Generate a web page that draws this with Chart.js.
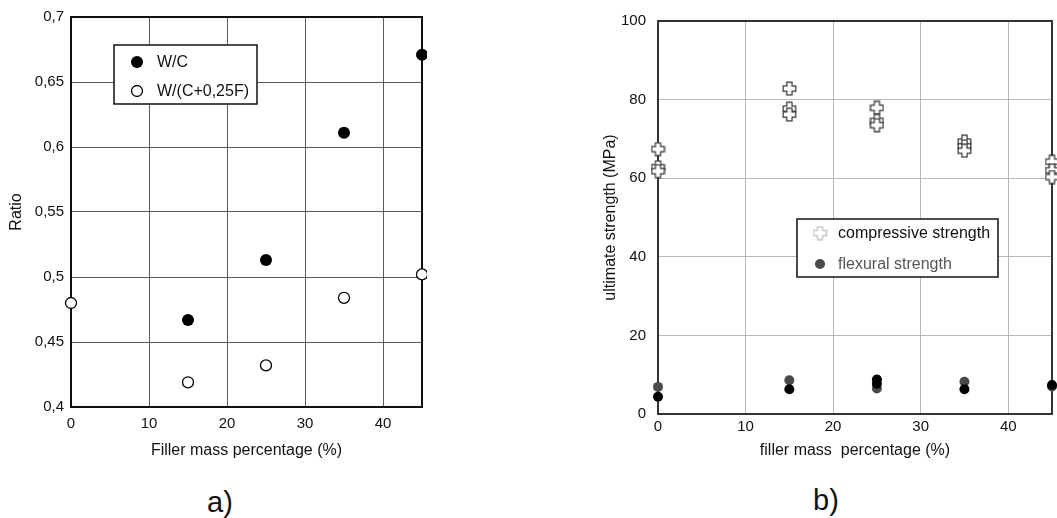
<!DOCTYPE html>
<html>
<head>
<meta charset="utf-8">
<script src="https://cdn.jsdelivr.net/npm/chart.js@4/dist/chart.umd.min.js"></script>
<style>
  body { margin: 0; background: #fff; }
  #wrap { position: relative; width: 1057px; height: 518px; overflow: hidden; font-family: "Liberation Sans", Arial, sans-serif; }
  canvas { position: absolute; top: 0; }
  .tag { position: absolute; font-size: 29px; color: #111; transform: translate(-50%, -50%); }
</style>
</head>
<body>
<div id="wrap">
  <canvas id="chartA" width="450" height="470" style="left:0"></canvas>
  <canvas id="chartB" width="537" height="470" style="left:520px"></canvas>
  <div class="tag" style="left:220px;top:502px">a)</div>
  <div class="tag" style="left:826px;top:500px">b)</div>
</div>
<script>
// ---- chart a: water ratios ----
const wcX = [15, 25, 35, 45];
const wcY = [0.467, 0.513, 0.611, 0.671];
const wcfX = [0, 15, 25, 35, 45];
const wcfY = [0.480, 0.419, 0.432, 0.484, 0.502];
const ratioTicks = ['0,4', '0,45', '0,5', '0,55', '0,6', '0,65', '0,7'];

// ---- chart b: strengths ----
const compX = [0, 0, 0, 15, 15, 15, 25, 25, 25, 35, 35, 35, 45, 45, 45];
const compY = [67.4, 62.8, 61.8, 82.8, 77.7, 76.2, 77.9, 74.6, 73.5, 69.3, 68.1, 67.0, 64.2, 62.0, 60.3];
const flexX = [0, 15, 25, 35, 45];
const flexY = [6.9, 8.6, 6.5, 8.2, 7.0];
const flex2X = [0, 15, 25, 25, 35, 45];
const flex2Y = [4.4, 6.3, 8.8, 7.7, 6.3, 7.4];

const FONT = '"Liberation Sans", Arial, sans-serif';

function pts(xs, ys) {
  return xs.map((x, i) => ({ x: x, y: ys[i] }));
}

// outlined plus sign used as point style
function crossImage(stroke) {
  const c = document.createElement('canvas');
  c.width = 15; c.height = 15;
  const g = c.getContext('2d');
  const m = 7.5, a = 2.6, L = 6.3;
  g.beginPath();
  g.moveTo(m - a, m - L); g.lineTo(m + a, m - L); g.lineTo(m + a, m - a);
  g.lineTo(m + L, m - a); g.lineTo(m + L, m + a); g.lineTo(m + a, m + a);
  g.lineTo(m + a, m + L); g.lineTo(m - a, m + L); g.lineTo(m - a, m + a);
  g.lineTo(m - L, m + a); g.lineTo(m - L, m - a); g.lineTo(m - a, m - a);
  g.closePath();
  g.fillStyle = '#fff';
  g.fill();
  g.strokeStyle = stroke;
  g.lineWidth = 1.2;
  g.stroke();
  return c;
}
const crossDark = crossImage('#333');
const crossLight = crossImage('#bbb');

// frame round the plot area
const frame = {
  id: 'frame',
  beforeDatasetsDraw(chart, args, opts) {
    const { left, top, right, bottom } = chart.chartArea;
    const ctx = chart.ctx;
    ctx.save();
    ctx.strokeStyle = opts.color;
    ctx.lineWidth = opts.width;
    ctx.strokeRect(left, top, right - left, bottom - top);
    ctx.restore();
  }
};

// legend drawn inside the plot as a boxed list
const boxLegend = {
  id: 'boxLegend',
  afterDatasetsDraw(chart, args, opts) {
    const ctx = chart.ctx;
    ctx.save();
    ctx.fillStyle = '#fff';
    ctx.fillRect(opts.x, opts.y, opts.w, opts.h);
    ctx.strokeStyle = '#111';
    ctx.lineWidth = 1.5;
    ctx.strokeRect(opts.x, opts.y, opts.w, opts.h);
    ctx.font = '16px ' + FONT;
    ctx.textBaseline = 'middle';
    opts.items.forEach((it, i) => {
      const ds = chart.data.datasets[it.dataset];
      const cy = opts.rows[i];
      if (it.image) {
        ctx.drawImage(it.image, opts.markX - it.image.width / 2, cy - it.image.height / 2);
      } else {
        ctx.beginPath();
        ctx.arc(opts.markX, cy, ds.pointRadius, 0, Math.PI * 2);
        ctx.fillStyle = ds.pointBackgroundColor;
        ctx.fill();
        if (ds.pointBorderWidth) {
          ctx.strokeStyle = ds.pointBorderColor;
          ctx.lineWidth = ds.pointBorderWidth;
          ctx.stroke();
        }
      }
      ctx.fillStyle = it.color;
      ctx.fillText(ds.label, opts.textX, cy + 1);
    });
    ctx.restore();
  }
};

function xScale(opts) {
  return {
    type: 'linear',
    min: 0, max: 45,
    afterFit: s => { s.height = opts.h; },
    ticks: { stepSize: 10, includeBounds: false, padding: opts.pad, color: '#111', font: { family: FONT, size: 15 } },
    grid: { color: opts.grid, lineWidth: 1, drawTicks: false },
    border: { display: false },
    title: { display: true, text: opts.title, color: '#111', font: { family: FONT, size: 16 }, padding: { top: 0, bottom: 10 } }
  };
}

new Chart(document.getElementById('chartA'), {
  type: 'scatter',
  data: {
    datasets: [
      {
        label: 'W/C',
        data: pts(wcX, wcY),
        pointRadius: 6, pointHoverRadius: 6,
        pointBackgroundColor: '#000', pointBorderColor: '#000', pointBorderWidth: 0,
        clip: { left: 10, top: 10, right: 5, bottom: 10 }
      },
      {
        label: 'W/(C+0,25F)',
        data: pts(wcfX, wcfY),
        pointRadius: 5.5, pointHoverRadius: 5.5,
        pointBackgroundColor: '#fff', pointBorderColor: '#000', pointBorderWidth: 1.3,
        clip: { left: 10, top: 10, right: 5, bottom: 10 }
      }
    ]
  },
  options: {
    responsive: false,
    animation: false,
    layout: { padding: { top: 17, right: 28, left: 0, bottom: 0 } },
    scales: {
      x: xScale({ h: 63, pad: 8, grid: '#5c5c5c', title: 'Filler mass percentage (%)' }),
      y: {
        type: 'linear',
        min: 0.4, max: 0.7,
        afterFit: s => { s.width = 71; },
        ticks: {
          stepSize: 0.05, padding: 7, color: '#111', font: { family: FONT, size: 15 },
          callback: (v, i) => ratioTicks[i]
        },
        grid: { color: '#5c5c5c', lineWidth: 1, drawTicks: false },
        border: { display: false },
        title: { display: true, text: 'Ratio', color: '#111', font: { family: FONT, size: 16 }, padding: { top: 7, bottom: 0 } }
      }
    },
    plugins: {
      legend: { display: false },
      tooltip: { enabled: false },
      frame: { color: '#111', width: 2 },
      boxLegend: {
        x: 114, y: 45, w: 143, h: 59,
        markX: 137, textX: 157, rows: [62, 91],
        items: [{ dataset: 0, color: '#111' }, { dataset: 1, color: '#111' }]
      }
    }
  },
  plugins: [frame, boxLegend]
});

new Chart(document.getElementById('chartB'), {
  type: 'scatter',
  data: {
    datasets: [
      {
        label: 'compressive strength',
        data: pts(compX, compY),
        pointStyle: crossDark,
        clip: false
      },
      {
        label: 'flexural strength',
        data: pts(flexX, flexY),
        pointRadius: 5, pointHoverRadius: 5,
        pointBackgroundColor: '#4a4a4a', pointBorderColor: '#4a4a4a', pointBorderWidth: 0,
        clip: false
      },
      {
        label: '',
        data: pts(flex2X, flex2Y),
        pointRadius: 5, pointHoverRadius: 5,
        pointBackgroundColor: '#000', pointBorderColor: '#000', pointBorderWidth: 0,
        clip: false,
        order: -1
      }
    ]
  },
  options: {
    responsive: false,
    animation: false,
    layout: { padding: { top: 17, right: 5, left: 0, bottom: 0 } },
    scales: {
      x: xScale({ h: 56, pad: 4, grid: '#b8b8b8', title: 'filler mass  percentage (%)' }),
      y: {
        type: 'linear',
        min: 0, max: 100,
        afterFit: s => { s.width = 138; },
        ticks: { stepSize: 20, padding: 12, color: '#111', font: { family: FONT, size: 15 } },
        grid: { color: '#b8b8b8', lineWidth: 1, drawTicks: false },
        border: { display: false },
        title: { display: true, text: 'ultimate strength (MPa)', color: '#111', font: { family: FONT, size: 16 }, padding: { top: 81, bottom: 0 } }
      }
    },
    plugins: {
      legend: { display: false },
      tooltip: { enabled: false },
      frame: { color: '#333', width: 2 },
      boxLegend: {
        x: 277, y: 219, w: 201, h: 58,
        markX: 300, textX: 318, rows: [233, 264],
        items: [{ dataset: 0, color: '#111', image: crossLight }, { dataset: 1, color: '#555' }]
      }
    }
  },
  plugins: [frame, boxLegend]
});
</script>
</body>
</html>
